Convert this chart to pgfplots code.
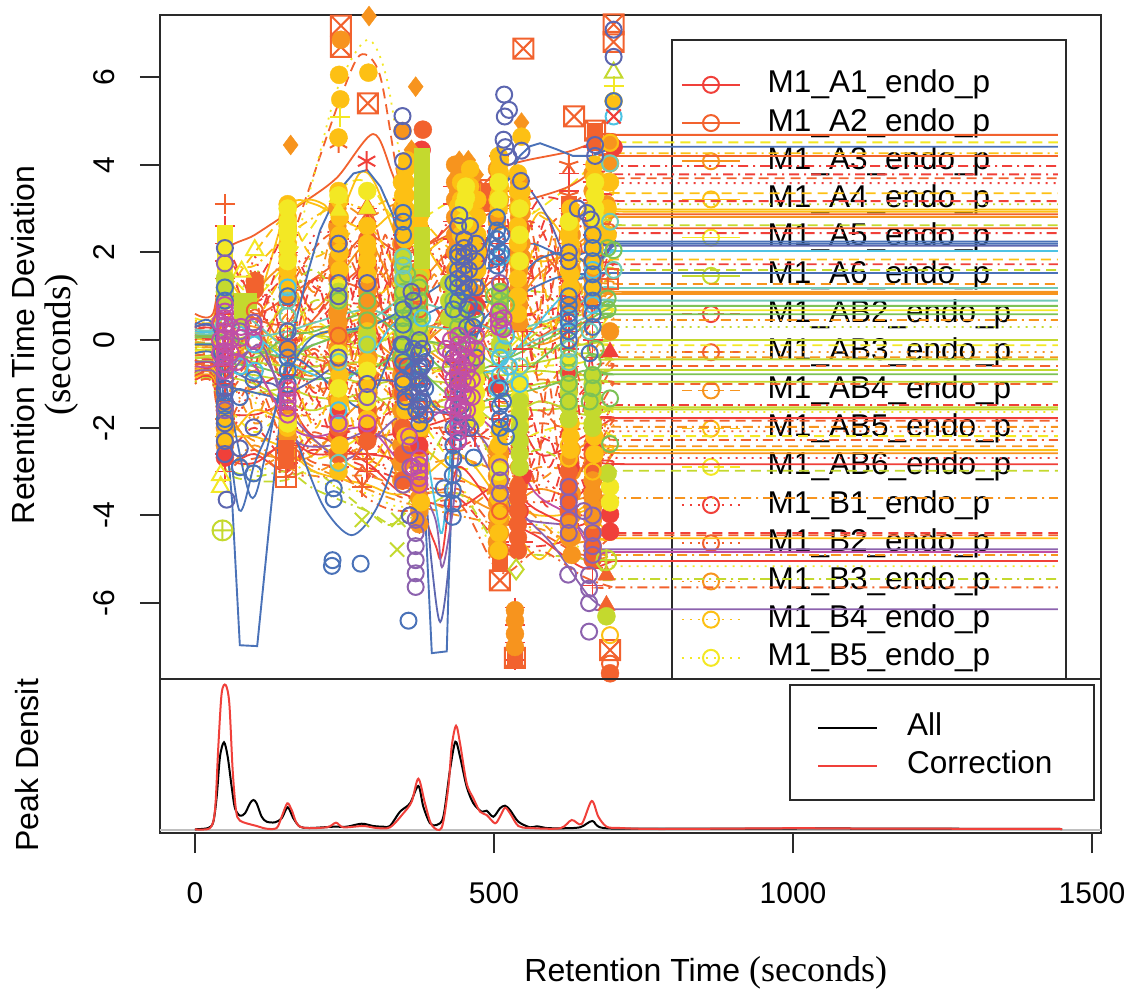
\documentclass[border=0pt]{standalone}
\usepackage{fontspec}
\setmainfont{Liberation Sans}
\newfontfamily\serifx{Liberation Serif}
\usepackage{pgfplots}
\pgfplotsset{compat=1.18}
\usetikzlibrary{plotmarks}
\definecolor{cR}{HTML}{F0403A}
\definecolor{cOR}{HTML}{F2622E}
\definecolor{cO}{HTML}{F7941E}
\definecolor{cYO}{HTML}{FDC014}
\definecolor{cL}{HTML}{F3E824}
\definecolor{cG}{HTML}{C4D92E}
\definecolor{cV}{HTML}{7CC256}
\definecolor{cT}{HTML}{70C9B8}
\definecolor{cC}{HTML}{4DC3E3}
\definecolor{cB}{HTML}{4A72B8}
\definecolor{cI}{HTML}{5C66B0}
\definecolor{cP}{HTML}{8C62AE}
\definecolor{cM}{HTML}{C04FA6}
\definecolor{fr}{HTML}{2A2A2A}
\pgfdeclareplotmark{boxx}{%
\pgfpathrectangle{\pgfqpoint{-\pgfplotmarksize}{-\pgfplotmarksize}}{\pgfqpoint{2\pgfplotmarksize}{2\pgfplotmarksize}}%
\pgfpathmoveto{\pgfqpoint{-\pgfplotmarksize}{-\pgfplotmarksize}}\pgfpathlineto{\pgfqpoint{\pgfplotmarksize}{\pgfplotmarksize}}%
\pgfpathmoveto{\pgfqpoint{-\pgfplotmarksize}{\pgfplotmarksize}}\pgfpathlineto{\pgfqpoint{\pgfplotmarksize}{-\pgfplotmarksize}}%
\pgfusepathqstroke}
\pgfdeclareplotmark{boxp}{%
\pgfpathrectangle{\pgfqpoint{-\pgfplotmarksize}{-\pgfplotmarksize}}{\pgfqpoint{2\pgfplotmarksize}{2\pgfplotmarksize}}%
\pgfpathmoveto{\pgfqpoint{-\pgfplotmarksize}{0pt}}\pgfpathlineto{\pgfqpoint{\pgfplotmarksize}{0pt}}%
\pgfpathmoveto{\pgfqpoint{0pt}{\pgfplotmarksize}}\pgfpathlineto{\pgfqpoint{0pt}{-\pgfplotmarksize}}%
\pgfusepathqstroke}
\tikzset{
 LA/.style={solid},
 LB/.style={dash pattern=on 10pt off 6pt},
 LC/.style={dash pattern=on 2pt off 6pt},
 LD/.style={dash pattern=on 2pt off 5pt on 10pt off 5pt},
 LE/.style={dash pattern=on 18pt off 6pt},
}
\pgfplotsset{
 K/.style 2 args={no marks,smooth,color=#1,#2,line width=1.8pt},
 O/.style={only marks,mark=o,color=#1,mark options={solid,line width=2pt},mark size=8pt},
 F/.style={only marks,mark=*,color=#1,mark options={solid,fill=#1,draw=#1},mark size=9pt},
 SQ/.style={only marks,mark=square*,color=#1,mark options={solid,fill=#1,draw=#1},mark size=7.5pt},
 TR/.style={only marks,mark=triangle*,color=#1,mark options={solid,fill=#1,draw=#1},mark size=10pt},
 DI/.style={only marks,mark=diamond*,color=#1,mark options={solid,fill=#1,draw=#1},mark size=10pt},
 MK/.style 2 args={only marks,mark=#2,color=#1,mark options={solid,line width=2pt},mark size=10pt},
 MS/.style 2 args={only marks,mark=#2,color=#1,mark options={solid,line width=1.5pt},mark size=10pt},
 frame/.style={scale only axis,width=941pt,xmin=-58.5,xmax=1515,
  axis line style={line width=2pt,color=fr},
  tick style={line width=2pt,color=fr},
  tick align=outside,
  major tick length=20pt,
  tick label style={font=\fontsize{30}{30}\selectfont},
  /pgf/number format/assume math mode=true,
  /pgf/number format/set thousands separator={}},
 legimg/.style={legend image code/.code={\draw[mark repeat=2,mark phase=2,##1] plot coordinates {(0pt,0pt)(29pt,0pt)(58pt,0pt)};}},
}
\begin{document}
\begin{tikzpicture}[x=1pt,y=1pt]
\path[use as bounding box] (0,0) rectangle (1131,988);
% legend of the upper panel, below the curves
\draw[line width=2pt,color=fr] (672,309)--(672,948)--(1066,948)--(1066,309);
\begin{axis}[hide axis,scale only axis,width=941pt,height=664pt,at={(160pt,309pt)},anchor=south west,
 xmin=-58.5,xmax=1515,ymin=-7.73,ymax=7.415,legimg,
 legend cell align=left,
 legend style={draw=none,fill=none,at={(0.5537,0.9177)},anchor=north west,inner sep=0pt,row sep=8.2pt,
  font=\fontsize{31.5}{31.5}\selectfont,
  nodes={inner sep=0pt,text height=23pt,text depth=7pt},
  /tikz/every odd column/.append style={column sep=27pt}}]
\addlegendimage{cR,solid,line width=1.5pt,mark=o,mark size=8pt,mark options={solid,line width=2pt}}
\addlegendentry{M1\_A1\_endo\_p}
\addlegendimage{cOR,solid,line width=1.5pt,mark=o,mark size=8pt,mark options={solid,line width=2pt}}
\addlegendentry{M1\_A2\_endo\_p}
\addlegendimage{cO,solid,line width=1.5pt,mark=o,mark size=8pt,mark options={solid,line width=2pt}}
\addlegendentry{M1\_A3\_endo\_p}
\addlegendimage{cYO,solid,line width=1.5pt,mark=o,mark size=8pt,mark options={solid,line width=2pt}}
\addlegendentry{M1\_A4\_endo\_p}
\addlegendimage{cL,solid,line width=1.5pt,mark=o,mark size=8pt,mark options={solid,line width=2pt}}
\addlegendentry{M1\_A5\_endo\_p}
\addlegendimage{cG,solid,line width=1.5pt,mark=o,mark size=8pt,mark options={solid,line width=2pt}}
\addlegendentry{M1\_A6\_endo\_p}
\addlegendimage{cR,LB,line width=1.5pt,mark=o,mark size=8pt,mark options={solid,line width=2pt}}
\addlegendentry{M1\_AB2\_endo\_p}
\addlegendimage{cOR,LB,line width=1.5pt,mark=o,mark size=8pt,mark options={solid,line width=2pt}}
\addlegendentry{M1\_AB3\_endo\_p}
\addlegendimage{cO,LB,line width=1.5pt,mark=o,mark size=8pt,mark options={solid,line width=2pt}}
\addlegendentry{M1\_AB4\_endo\_p}
\addlegendimage{cYO,LB,line width=1.5pt,mark=o,mark size=8pt,mark options={solid,line width=2pt}}
\addlegendentry{M1\_AB5\_endo\_p}
\addlegendimage{cL,LB,line width=1.5pt,mark=o,mark size=8pt,mark options={solid,line width=2pt}}
\addlegendentry{M1\_AB6\_endo\_p}
\addlegendimage{cR,LC,line width=1.5pt,mark=o,mark size=8pt,mark options={solid,line width=2pt}}
\addlegendentry{M1\_B1\_endo\_p}
\addlegendimage{cOR,LC,line width=1.5pt,mark=o,mark size=8pt,mark options={solid,line width=2pt}}
\addlegendentry{M1\_B2\_endo\_p}
\addlegendimage{cO,LC,line width=1.5pt,mark=o,mark size=8pt,mark options={solid,line width=2pt}}
\addlegendentry{M1\_B3\_endo\_p}
\addlegendimage{cYO,LC,line width=1.5pt,mark=o,mark size=8pt,mark options={solid,line width=2pt}}
\addlegendentry{M1\_B4\_endo\_p}
\addlegendimage{cL,LC,line width=1.5pt,mark=o,mark size=8pt,mark options={solid,line width=2pt}}
\addlegendentry{M1\_B5\_endo\_p}
\end{axis}
% upper panel
\begin{axis}[frame,height=664pt,at={(160pt,309pt)},anchor=south west,
 ymin=-7.73,ymax=7.415,
 xtick=\empty,
 ytick={-6,-4,-2,0,2,4,6},
 ytick pos=left,
 yticklabel style={rotate=90,anchor=south,yshift=22pt},
 ylabel={Retention Time Deviation\\{\serifx\fontsize{37}{36}\selectfont(seconds)}},
 ylabel style={at={(axis description cs:-0.122,0.503)},anchor=center,align=center,font=\fontsize{32}{36}\selectfont}]
% warm curves
\addplot[K={cOR}{LA}] coordinates {(0,.6)(30,.6)(50,2)(100,2.4)(175,3.08)(237,3.7)(298,4.7)(331,3.76)(375,2.2)(440,2.8)(510,3.9)(625,4.3)(700,4.68)(725,4.68)(1443,4.68)};
\addplot[K={cL}{LB}] coordinates {(0,.5)(30,.5)(50,1.5)(100,1)(155,1.8)(240,3.4)(288,3.6)(348,2.6)(440,3.2)(510,2.5)(625,3.5)(700,4.51)(725,4.51)(1443,4.51)};
\addplot[K={cOR}{LA}] coordinates {(0,.4)(30,.4)(50,1.2)(100,.6)(155,1)(240,1.8)(288,2.4)(348,2)(440,2.5)(510,3)(625,3.5)(700,4.2)(725,4.2)(1443,4.2)};
\addplot[K={cYO}{LD}] coordinates {(0,.45)(30,.45)(50,1.6)(100,1.7)(155,2.4)(240,3.1)(288,3)(348,3.2)(440,2)(510,3.3)(625,2.6)(700,4.26)(725,4.26)(1443,4.26)};
\addplot[K={cR}{LD}] coordinates {(0,.3)(30,.3)(50,2.1)(100,.9)(155,1.4)(200,.4)(288,1.7)(348,1.1)(440,2.9)(510,1.6)(575,3.2)(650,3.1)(700,3.97)(725,3.97)(1443,3.97)};
\addplot[K={cR}{LD}] coordinates {(0,.25)(30,.25)(50,-.4)(100,.3)(155,2.1)(200,1.2)(288,.9)(348,2.7)(440,1.3)(510,2.2)(575,1.4)(650,2.7)(700,3.78)(725,3.78)(1443,3.78)};
\addplot[K={cOR}{LB}] coordinates {(0,.35)(30,.35)(50,1.8)(100,.2)(155,-.6)(200,1)(288,3)(348,.4)(440,1.9)(510,.3)(575,2.3)(650,3.3)(700,3.69)(725,3.69)(1443,3.69)};
\addplot[K={cR}{LC}] coordinates {(0,.32)(30,.32)(50,.9)(100,1.4)(155,.2)(200,2.4)(288,1.9)(348,-.3)(440,.9)(510,2.8)(575,1)(650,1.5)(700,3.58)(725,3.58)(1443,3.58)};
\addplot[K={cYO}{LB}] coordinates {(0,.2)(30,.2)(50,1)(100,2)(155,2.8)(200,1.9)(288,2.6)(348,1.3)(440,-.5)(510,1.2)(575,-.4)(650,2)(700,3.35)(725,3.35)(1443,3.35)};
\addplot[K={cR}{LB}] coordinates {(0,.22)(30,.22)(50,-1)(100,-.3)(155,.8)(200,-.6)(288,.3)(348,1.8)(440,.1)(510,1.9)(575,.4)(650,.5)(700,3.17)(725,3.17)(1443,3.17)};
\addplot[K={cG}{LC}] coordinates {(0,.18)(30,.18)(50,.2)(100,1.6)(155,.5)(200,2)(288,1.4)(348,.6)(440,1.5)(510,-.2)(575,.9)(650,1.1)(700,3.1)(725,3.1)(1443,3.1)};
\addplot[K={cYO}{LA}] coordinates {(0,.16)(30,.16)(50,1.4)(100,.8)(155,3)(200,3.1)(288,2.5)(348,2.9)(440,1.2)(510,2.6)(575,1.8)(650,2.2)(700,2.98)(725,2.98)(1443,2.98)};
\addplot[K={cYO}{LA}] coordinates {(0,.14)(30,.14)(50,.7)(100,-.6)(155,1.2)(200,.1)(288,.8)(348,1.5)(440,2.4)(510,.8)(575,2.9)(650,1.8)(700,2.93)(725,2.93)(1443,2.93)};
\addplot[K={cOR}{LA}] coordinates {(0,.12)(30,.12)(50,1.1)(100,.5)(155,.4)(200,1.4)(288,1.1)(348,.2)(440,.6)(510,1.4)(575,.1)(650,1.2)(700,2.87)(725,2.87)(1443,2.87)};
\addplot[K={cO}{LA}] coordinates {(0,.1)(30,.1)(50,.4)(100,1.1)(155,1.7)(200,.7)(288,2.2)(348,1)(440,2.1)(510,.6)(575,1.5)(650,2.3)(700,2.81)(725,2.81)(1443,2.81)};
\addplot[K={cG}{LB}] coordinates {(0,.08)(30,.08)(50,.8)(100,.1)(155,.9)(200,1.6)(288,.3)(348,.9)(440,-.8)(510,.9)(575,1.1)(650,.6)(700,2.62)(725,2.62)(1443,2.62)};
\addplot[K={cOR}{LA}] coordinates {(0,.06)(30,.06)(50,-.2)(100,.7)(155,-.2)(200,.5)(288,1.6)(348,-.7)(440,1.1)(510,-.6)(575,1.9)(650,.9)(700,2.55)(725,2.55)(1443,2.55)};
\addplot[K={cR}{LD}] coordinates {(0,.04)(30,.04)(50,.6)(100,-.9)(155,.3)(200,-1.2)(288,-.4)(348,.7)(440,-.2)(510,2.2)(575,2.6)(650,.2)(700,2.44)(725,2.44)(1443,2.44)};
\addplot[K={cYO}{LB}] coordinates {(0,.02)(30,.02)(50,.1)(100,.4)(155,1.5)(200,.2)(288,.5)(348,-.2)(440,.8)(510,1.1)(575,-.8)(650,1.4)(700,1.84)(725,1.84)(1443,1.84)};
\addplot[K={cR}{LD}] coordinates {(0,0)(30,0)(50,-.7)(100,.2)(155,-1)(200,-.1)(288,-1.1)(348,.1)(440,-1.1)(510,.4)(575,.6)(650,1)(700,1.73)(725,1.73)(1443,1.73)};
\addplot[K={cG}{LB}] coordinates {(0,-.03)(30,-.03)(50,.5)(100,-.4)(155,.1)(200,.9)(288,.7)(348,.5)(440,.3)(510,-.4)(575,.2)(650,.7)(700,1.6)(725,1.6)(1443,1.6)};
\addplot[K={cO}{LB}] coordinates {(0,-.06)(30,-.06)(50,-.1)(100,-.7)(155,.6)(200,-.4)(288,-.6)(348,-1.1)(440,-.4)(510,-.1)(575,-1.2)(650,.2)(700,1.28)(725,1.28)(1443,1.28)};
\addplot[K={cO}{LA}] coordinates {(0,-.09)(30,-.09)(50,.3)(100,.3)(155,-.1)(200,.3)(288,.1)(348,-.4)(440,.5)(510,.2)(575,.3)(650,.8)(700,1.1)(725,1.1)(1443,1.1)};
\addplot[K={cO}{LA}] coordinates {(0,-.12)(30,-.12)(50,-.3)(100,.1)(155,-.4)(200,-.8)(288,.4)(348,.2)(440,-.6)(510,.5)(575,-.1)(650,.4)(700,1.05)(725,1.05)(1443,1.05)};
\addplot[K={cL}{LA}] coordinates {(0,-.15)(30,-.15)(50,.2)(100,-.2)(155,.3)(200,.1)(288,-.2)(348,.3)(440,.2)(510,-.3)(575,.4)(650,-.1)(700,.68)(725,.68)(1443,.68)};
\addplot[K={cO}{LD}] coordinates {(0,-.18)(30,-.18)(50,-.5)(100,-.1)(155,-.7)(200,-.3)(288,-.8)(348,-1.4)(440,-1.3)(510,-.9)(575,.7)(650,-.4)(700,.46)(725,.46)(1443,.46)};
\addplot[K={cG}{LC}] coordinates {(0,-.2)(30,-.2)(50,.1)(100,-.5)(155,.1)(200,-.5)(288,.2)(348,-.2)(440,.4)(510,-.5)(575,-.3)(650,.1)(700,.3)(725,.3)(1443,.3)};
\addplot[K={cG}{LA}] coordinates {(0,-.22)(30,-.22)(50,-.1)(100,.1)(155,-.3)(200,.1)(288,-.1)(348,.1)(440,-.2)(510,.2)(575,-.2)(650,-.1)(700,0)(725,0)(1443,0)};
\addplot[K={cL}{LB}] coordinates {(0,-.25)(30,-.25)(50,-.6)(100,.1)(155,-.9)(200,.4)(288,-.5)(348,-.7)(440,-.7)(510,-.7)(575,-.6)(650,-.5)(700,-.12)(725,-.12)(1443,-.12)};
\addplot[K={cO}{LC}] coordinates {(0,-.28)(30,-.28)(50,.3)(100,-.8)(155,.2)(200,-.9)(288,-1.3)(348,.2)(440,-1.5)(510,-1.1)(575,.1)(650,-.8)(700,-.27)(725,-.27)(1443,-.27)};
\addplot[K={cO}{LB}] coordinates {(0,-.3)(30,-.3)(50,-.8)(100,-.3)(155,-.5)(200,-1.1)(288,-.9)(348,-.8)(440,.7)(510,-1.4)(575,-.9)(650,-1.1)(700,-.39)(725,-.39)(1443,-.39)};
\addplot[K={cG}{LA}] coordinates {(0,-.33)(30,-.33)(50,.1)(100,-.3)(155,-.2)(200,-.4)(288,-.3)(348,-.5)(440,-.1)(510,-.6)(575,-.5)(650,-.3)(700,-.44)(725,-.44)(1443,-.44)};
\addplot[K={cOR}{LB}] coordinates {(0,-.36)(30,-.36)(50,-.9)(100,.4)(155,-1.2)(200,-.2)(288,-1.6)(348,-1.2)(440,-1.8)(510,-1.7)(575,-1.4)(650,-1.6)(700,-.59)(725,-.59)(1443,-.59)};
\addplot[K={cG}{LA}] coordinates {(0,-.39)(30,-.39)(50,-.4)(100,-.5)(155,-.6)(200,-.6)(288,-.5)(348,-.7)(440,-.6)(510,-.8)(575,-.7)(650,-.8)(700,-.68)(725,-.68)(1443,-.68)};
\addplot[K={cG}{LA}] coordinates {(0,-.42)(30,-.42)(50,-.7)(100,-.8)(155,-.9)(200,-.7)(288,-1)(348,-.9)(440,-1)(510,-1.2)(575,-1)(650,-.9)(700,-.95)(725,-.95)(1443,-.95)};
\addplot[K={cOR}{LB}] coordinates {(0,-.45)(30,-.45)(50,.5)(100,-1)(155,-1.5)(200,-1.6)(288,.6)(348,-1.8)(440,-2)(510,-2.3)(575,-1.9)(650,-2)(700,-1)(725,-1)(1443,-1)};
\addplot[K={cR}{LD}] coordinates {(0,-.48)(30,-.48)(50,-1.2)(100,-1.1)(155,-.8)(200,-1.9)(288,-1.9)(348,-1.6)(440,-2.4)(510,-1.9)(575,-2.2)(650,-2.5)(700,-1.48)(725,-1.48)(1443,-1.48)};
\addplot[K={cG}{LA}] coordinates {(0,-.5)(30,-.5)(50,-1)(100,-1.2)(155,-1.1)(200,-1.3)(288,-1.4)(348,-1.3)(440,-1.6)(510,-1.5)(575,-1.6)(650,-1.5)(700,-1.53)(725,-1.53)(1443,-1.53)};
\addplot[K={cG}{LA}] coordinates {(0,-.52)(30,-.52)(50,-.8)(100,-1)(155,-1.4)(200,-1.6)(288,-1.2)(348,-1.7)(440,-1.3)(510,-1.9)(575,-1.4)(650,-1.7)(700,-1.58)(725,-1.58)(1443,-1.58)};
\addplot[K={cL}{LC}] coordinates {(0,-.54)(30,-.54)(50,.9)(100,-1.4)(155,-1.9)(200,-1.4)(288,.1)(348,-2.1)(440,-.9)(510,-2.4)(575,-2.3)(650,-1.3)(700,-1.64)(725,-1.64)(1443,-1.64)};
\addplot[K={cR}{LA}] coordinates {(0,-.56)(30,-.56)(50,-1.6)(100,-1.7)(155,-1.5)(200,-2.2)(288,-2.2)(348,-2.1)(440,-1.7)(510,-1)(575,-2.6)(650,-2.2)(700,-1.78)(725,-1.78)(1443,-1.78)};
\addplot[K={cOR}{LB}] coordinates {(0,-.58)(30,-.58)(50,-1.3)(100,-.6)(155,-2)(200,-1)(288,-2.5)(348,-.9)(440,-2.6)(510,-2.8)(575,-1.6)(650,-2.7)(700,-1.84)(725,-1.84)(1443,-1.84)};
\addplot[K={cO}{LD}] coordinates {(0,-.6)(30,-.6)(50,-.6)(100,-1.9)(155,-1.3)(200,-2.4)(288,-1.7)(348,-2.5)(440,-1.1)(510,-3.2)(575,-2.9)(650,-2.9)(700,-1.98)(725,-1.98)(1443,-1.98)};
\addplot[K={cOR}{LC}] coordinates {(0,-.62)(30,-.62)(50,-1.9)(100,-1.3)(155,-2.3)(200,-1.8)(288,-1)(348,-2.7)(440,-2.2)(510,-2.1)(575,-3.3)(650,-3.2)(700,-2.08)(725,-2.08)(1443,-2.08)};
\addplot[K={cL}{LB}] coordinates {(0,-.64)(30,-.64)(50,-1.4)(100,-2.1)(155,-1.7)(200,-2.7)(288,-2.1)(348,-1.4)(440,-2.9)(510,-2.6)(575,-2.1)(650,-1.9)(700,-2.19)(725,-2.19)(1443,-2.19)};
\addplot[K={cOR}{LD}] coordinates {(0,-.66)(30,-.66)(50,-2)(100,-.9)(155,-2.5)(200,-2.1)(288,-2.7)(348,-3.1)(440,-3.2)(510,-3.5)(575,-3.7)(650,-3.4)(700,-2.28)(725,-2.28)(1443,-2.28)};
\addplot[K={cO}{LB}] coordinates {(0,-.68)(30,-.68)(50,-1.7)(100,-2.3)(155,-2.2)(200,-3)(288,-2.4)(348,-2.9)(440,-2.7)(510,-3)(575,-3.2)(650,-2.4)(700,-2.42)(725,-2.42)(1443,-2.42)};
\addplot[K={cYO}{LA}] coordinates {(0,-.7)(30,-.7)(50,-2.2)(100,-1.6)(155,-1.9)(200,-2.3)(288,-3)(348,-2.2)(440,-3.1)(510,-3.6)(575,-4)(650,-3.8)(700,-2.51)(725,-2.51)(1443,-2.51)};
\addplot[K={cO}{LA}] coordinates {(0,-.72)(30,-.72)(50,-1.5)(100,-2.5)(155,-2.7)(200,-2.6)(288,-1.4)(348,-3.3)(440,-3.5)(510,-3.9)(575,-3.4)(650,-3.6)(700,-2.58)(725,-2.58)(1443,-2.58)};
\addplot[K={cR}{LC}] coordinates {(0,-.74)(30,-.74)(50,-2.4)(100,-1.1)(155,-2.9)(200,-3.1)(288,-3.2)(348,-2.4)(440,-2.4)(510,-2.5)(575,-3)(650,-4)(700,-2.69)(725,-2.69)(1443,-2.69)};
\addplot[K={cR}{LA}] coordinates {(0,-.76)(30,-.76)(50,-2.7)(100,-2.6)(155,-3)(200,-2.2)(288,-2.8)(348,-3.5)(440,-3.8)(510,-3.3)(575,-3.9)(650,-4.2)(700,-2.83)(725,-2.83)(1443,-2.83)};
\addplot[K={cG}{LB}] coordinates {(0,-.78)(30,-.78)(50,-2.9)(100,-3.2)(150,-3.2)(200,-3)(288,-3.9)(340,-4.1)(440,-1.7)(510,-2.9)(575,-2.5)(650,-3)(700,-2.98)(725,-2.98)(1443,-2.98)};
\addplot[K={cO}{LD}] coordinates {(0,-.8)(30,-.8)(50,-2.3)(100,-2.9)(155,-2.6)(200,-2.9)(288,-3.4)(348,-3.7)(440,-4)(510,-4.2)(575,-4.3)(650,-4.6)(700,-3.6)(725,-3.6)(1443,-3.6)};
\addplot[K={cR}{LB}] coordinates {(0,-.82)(30,-.82)(50,-2.5)(100,-2)(155,-2.8)(200,-2.5)(288,-2.9)(348,-3.2)(440,-3.6)(510,-4.6)(575,-4.7)(650,-4.5)(700,-4.4)(725,-4.4)(1443,-4.4)};
\addplot[K={cOR}{LB}] coordinates {(0,-.84)(30,-.84)(50,-2.6)(100,-2.7)(155,-2.4)(200,-2.8)(288,-3)(348,-3.6)(440,-3.4)(510,-4.4)(575,-4.4)(650,-4.9)(700,-4.45)(725,-4.45)(1443,-4.45)};
\addplot[K={cYO}{LA}] coordinates {(0,-.86)(30,-.86)(50,-2.1)(100,-2.2)(155,-2.5)(200,-3)(288,-3.3)(348,-3.5)(440,-2.6)(510,-3.7)(548,-4.6)(577,-5)(610,-4.5)(650,-3.9)(700,-4.52)(725,-4.52)(1443,-4.52)};
\addplot[K={cO}{LD}] coordinates {(0,-.9)(30,-.9)(50,-2.8)(100,-2.4)(155,-2.9)(200,-3.1)(288,-3.1)(348,-3.4)(440,-3.9)(510,-3.4)(575,-4.1)(650,-5)(700,-4.9)(725,-4.9)(1443,-4.9)};
\addplot[K={cR}{LA}] coordinates {(0,-.92)(30,-.92)(50,-2.6)(100,-2.8)(155,-2.3)(200,-2.6)(288,-2.6)(348,-2.9)(400,-4.6)(413,-4.9)(440,-2.9)(510,-4)(575,-4.5)(650,-5.2)(700,-5.04)(725,-5.04)(1443,-5.04)};
\addplot[K={cL}{LC}] coordinates {(0,-.95)(30,-.95)(50,-2.4)(100,-3)(155,-2.7)(200,-3.2)(288,-3.5)(348,-3.8)(440,-3.3)(510,-5)(575,-4.2)(650,-4.8)(700,-5.16)(725,-5.16)(1443,-5.16)};
\addplot[K={cG}{LD}] coordinates {(0,-.97)(30,-.97)(50,-2.8)(100,-3.1)(155,-3)(200,-3.4)(288,-3.9)(340,-4.2)(440,-3.5)(510,-4.8)(575,-4.9)(650,-5)(700,-5.45)(725,-5.45)(1443,-5.45)};
\addplot[K={cOR}{LD}] coordinates {(0,-1)(30,-1)(50,-2.9)(100,-2.5)(155,-3.1)(200,-2.4)(288,-3.6)(348,-3.9)(440,-3.7)(510,-5.3)(575,-4.8)(650,-5.4)(700,-5.64)(725,-5.64)(1443,-5.64)};
\addplot[K={cOR}{LB}] coordinates {(155,2)(187,3.3)(240,5.4)(276,6.5)(309,6.05)(338,3.83)(375,1.5)(420,.4)};
\addplot[K={cL}{LC}] coordinates {(155,1.5)(200,3.8)(240,5.8)(288,6.85)(320,6)(350,3.5)(380,1)};
\addplot[K={cYO}{LA}] coordinates {(155,2.9)(187,3.2)(215,3.1)(240,2.8)(275,3.8)(300,3.6)(340,2.2)};
% short curves between the columns
\addplot[K={cR}{LB}] coordinates {(155,1.8)(200,.6)(240,1.2)(288,-.4)(348,1.4)(375,-.6)};
\addplot[K={cR}{LD}] coordinates {(155,-.8)(200,1.4)(240,-.2)(288,1.9)(348,-1.3)(375,.8)};
\addplot[K={cOR}{LD}] coordinates {(155,.4)(200,-1.4)(240,.8)(288,-1.5)(348,.5)(375,-1.9)};
\addplot[K={cR}{LB}] coordinates {(155,-1.7)(200,-.3)(240,-1.7)(288,.8)(348,-2.2)(375,1.2)};
\addplot[K={cOR}{LB}] coordinates {(155,1.1)(200,2.1)(240,2.4)(288,1.2)(348,2.1)(375,2.9)};
\addplot[K={cO}{LD}] coordinates {(155,2.3)(200,1.1)(240,3)(288,2.8)(348,3.1)(375,1.9)};
\addplot[K={cR}{LD}] coordinates {(155,-2.2)(200,-1.3)(240,-2.6)(288,-2.2)(348,-3)(375,-2.2)};
\addplot[K={cYO}{LB}] coordinates {(155,-.3)(200,-2)(240,-.9)(288,-2.8)(348,-1.6)(375,-3.1)};
\addplot[K={cR}{LB}] coordinates {(240,3)(265,1)(288,2.9)(318,.6)(348,3.3)(400,.8)(432,3.2)};
\addplot[K={cOR}{LD}] coordinates {(240,.3)(265,2.2)(288,-.1)(318,2.4)(348,.2)(400,2.3)(432,.4)};
\addplot[K={cR}{LD}] coordinates {(240,-1.2)(265,.4)(288,-1.6)(318,-.3)(348,-1.9)(400,-.4)(432,-1.7)};
\addplot[K={cOR}{LB}] coordinates {(240,-2.3)(265,-1)(288,-2.4)(318,-1.4)(348,-2.6)(400,-1.4)(432,-2.4)};
\addplot[K={cO}{LB}] coordinates {(240,1.6)(265,-.5)(288,1.3)(318,1.4)(348,-.8)(400,1.5)(432,-.7)};
\addplot[K={cR}{LD}] coordinates {(440,3)(475,1.8)(510,3.4)(548,1.2)(590,2.8)(625,.3)(665,1.6)};
\addplot[K={cR}{LB}] coordinates {(440,1.5)(475,.2)(510,1.1)(548,2.6)(590,-.4)(625,1.8)(665,-.6)};
\addplot[K={cOR}{LD}] coordinates {(440,-.5)(475,-1.6)(510,-.6)(548,.4)(590,-1.7)(625,-.3)(665,-2.1)};
\addplot[K={cR}{LB}] coordinates {(440,-1.8)(475,-.4)(510,-2.4)(548,-1.1)(590,-2.9)(625,-1.6)(665,-.9)};
\addplot[K={cOR}{LB}] coordinates {(440,.6)(475,2.6)(510,.9)(548,3.3)(590,.9)(625,3.3)(665,.5)};
\addplot[K={cR}{LD}] coordinates {(510,-2.6)(548,-3.2)(590,-2.2)(625,-3.6)(665,-3.2)};
\addplot[K={cR}{LB}] coordinates {(510,-3.7)(548,-2.7)(590,-3.8)(625,-2.6)(665,-3.9)};
\addplot[K={cOR}{LB}] coordinates {(548,-1.6)(570,-3.3)(590,-.9)(610,-2.7)(625,-1.1)(645,-3)(665,-1.5)};
\addplot[K={cR}{LD}] coordinates {(548,.9)(570,-.7)(590,1.8)(610,-1.3)(625,.8)(645,-1.8)(665,.2)};
\addplot[K={cO}{LB}] coordinates {(540,2.2)(570,.4)(600,2.4)(625,-.9)(665,2.2)};
\addplot[K={cYO}{LB}] coordinates {(540,.4)(570,2.2)(600,.2)(625,2.4)(665,-.2)};
\addplot[K={cR}{LC}] coordinates {(50,1.9)(75,.3)(100,1.9)(125,.3)(155,1.7)};
\addplot[K={cR}{LB}] coordinates {(50,-1.2)(75,.7)(100,-.6)(125,1)(155,-.8)};
\addplot[K={cOR}{LD}] coordinates {(50,.7)(75,-.8)(100,1)(125,-.6)(155,.5)};
\addplot[K={cO}{LB}] coordinates {(50,-1.9)(75,-.2)(100,-1.8)(125,-1.2)(155,-2)};
\addplot[K={cR}{LD}] coordinates {(50,2.3)(75,1.4)(100,1.3)(125,1.8)(155,2.6)};
% warm marks
\addplot[MS={cR}{+}] coordinates {(50,2.6)(50,2.2)(50,1.8)(50,1.4)(50,1)(50,.6)(50,.2)(50,-.2)(50,-.6)(50,-1)(50,-1.4)(50,-1.8)(50,-2.2)(50,-2.6)(50,-3)
(155,2.4)(155,2)(155,1.6)(155,1.2)(155,.8)(155,.4)(155,0)(155,-.4)(155,-.8)(155,-1.2)(155,-1.6)(155,-2)(155,-2.4)(155,-2.8)
(240,3.1)(240,2.7)(240,2.3)(240,1.9)(240,1.5)(240,1.1)(240,.7)(240,.3)(240,-.1)(240,-.5)(240,-.9)(240,-1.3)(240,-1.7)(240,-2.1)(240,-2.5)(240,-2.9)
(288,3)(288,2.6)(288,2.2)(288,1.8)(288,1.4)(288,1)(288,.6)(288,.2)(288,-.2)(288,-.6)(288,-1)(288,-1.4)(288,-1.8)(288,-2.2)(288,-2.6)(288,-3)
(348,3.6)(348,3.2)(348,2.8)(348,2.4)(348,2)(348,1.6)(348,1.2)(348,.8)(348,.4)(348,0)(348,-.4)(348,-.8)(348,-1.2)(348,-1.6)(348,-2)(348,-2.4)(348,-2.8)(348,-3.2)
(375,3)(375,2.6)(375,2.2)(375,1.8)(375,1.4)(375,1)(375,.6)(375,.2)(375,-.2)(375,-.6)(375,-1)(375,-1.4)(375,-1.8)(375,-2.2)(375,-2.6)(375,-3)(375,-3.4)(375,-3.8)(375,-4.2)
(432,3.5)(432,3.1)(432,2.7)(432,2.3)(432,1.9)(432,1.5)(432,1.1)(432,.7)(432,.3)(432,-.1)(432,-.5)(432,-.9)(432,-1.3)(432,-1.7)(432,-2.1)(432,-2.5)
(468,3.4)(468,3)(468,2.6)(468,2.2)(468,1.8)(468,1.4)(468,1)(468,.6)(468,.2)(468,-.2)(468,-.6)(468,-1)(468,-1.4)(468,-1.8)(468,-2.2)
(508,4.2)(508,3.8)(508,3.4)(508,3)(508,2.6)(508,2.2)(508,1.8)(508,1.4)(508,1)(508,.6)(508,.2)(508,-.2)(508,-.6)(508,-1)(508,-1.4)(508,-1.8)(508,-2.2)(508,-2.6)(508,-3)(508,-3.4)(508,-3.8)(508,-4.2)(508,-4.6)
(548,3.4)(548,3)(548,2.6)(548,2.2)(548,1.8)(548,1.4)(548,1)(548,.6)(548,.2)(548,-.2)(548,-.6)(548,-1)(548,-1.4)(548,-1.8)(548,-2.2)(548,-2.6)(548,-3)(548,-3.4)(548,-3.8)(548,-4.2)(548,-4.6)
(625,3.8)(625,3.4)(625,3)(625,2.6)(625,2.2)(625,1.8)(625,1.4)(625,1)(625,.6)(625,.2)(625,-.2)(625,-.6)(625,-1)(625,-1.4)(625,-1.8)(625,-2.2)(625,-2.6)(625,-3)(625,-3.4)(625,-3.8)(625,-4.2)(625,-4.6)
(665,4.4)(665,4)(665,3.6)(665,3.2)(665,2.8)(665,2.4)(665,2)(665,1.6)(665,1.2)(665,.8)(665,.4)(665,0)(665,-.4)(665,-.8)(665,-1.2)(665,-1.6)(665,-2)(665,-2.4)(665,-2.8)(665,-3.2)(665,-3.6)(665,-4)(665,-4.4)(665,-4.8)(665,-5.2)(665,-5.6)
(535,-6.1)(535,-6.5)(535,-6.9)(535,-7.3)};
% dense fill of the columns
\addplot[F={cO}] coordinates {(238,3)(238,2.6)(238,2.2)(238,1.8)(238,1.4)(238,1)(238,.6)(238,.2)(238,-.2)(238,-.6)(238,-1)(238,-1.4)(238,-1.8)(238,-2.2)(238,-2.6)
(290,2)(290,1.6)(290,1.2)(290,.8)(290,.4)(290,0)(290,-.4)(290,-.8)(290,-1.2)(290,-1.6)(290,-2)
(345,3)(345,2.6)(345,2.2)(345,1.8)(345,-.4)(345,-.8)(345,-1.2)(345,-1.6)(345,-2)(345,-2.4)(345,-2.8)(345,-3.2)
(375,1.6)(375,1.2)(375,-2.1)(375,-2.5)(375,-3.3)(375,-3.6)(375,-3.9)(375,-4.2)
(435,4)(435,3.6)(435,3.2)(435,2.8)(435,2.4)(435,2)(435,1.6)(435,1.2)
(450,3.8)(450,3.4)(450,3)(450,2.6)(450,2.2)(450,1.8)(450,1.4)
(465,3.5)(465,3.1)(465,2.7)(465,2.3)(465,1.9)(465,1.5)(465,1.1)
(505,3.9)(505,3.5)(505,3.1)(505,2.7)(505,-2.5)(505,-2.8)(505,-3.1)(505,-3.4)(505,-3.7)(505,-4)(505,-4.3)(505,-4.6)(505,-4.8)
(542,3.6)(542,3.2)(542,2.8)(542,2.4)(542,2)(542,1.6)(542,1.2)(542,.8)(542,.4)(542,-2.9)(542,-3.3)
(630,2.8)(630,2.4)(630,2)(630,1.6)(630,1.2)(630,.8)(630,-2.5)(630,-3)(630,-3.5)(630,-4)(630,-4.5)(630,-4.9)
(665,3.8)(665,3.4)(665,3)(665,2.6)(665,2.2)(665,1.8)(665,1.4)(665,1)(665,-2.4)(665,-2.8)(665,-3.2)(665,-3.6)(665,-4)(665,-4.4)(665,-4.8)
(50,-1.6)(50,-2)(50,-2.4)(155,1.4)(155,1)(155,-.2)(155,-1.8)(155,-2.2)(155,-2.6)};
\addplot[F={cR}] coordinates {(379,4.34)(50,-2.68)(288,-2)(348,.98)(240,.98)(463,-.8)(505,-1)(543,-3.9)(694,-3.97)(694,-4.37)(625,-.7)(380,1.5)(700,4.4)(288,-1.3)(240,-1.7)(240,-2.1)(345,-2.1)(375,-2.4)(628,-2.9)(665,-2.5)(548,-3.1)(440,.5)(470,.8)};
\addplot[TR={cR}] coordinates {(694,-.27)(540,-.9)};
\addplot[F={cOR}] coordinates {(381,4.8)(288,2.3)(545,2.55)(100,1.35)(100,1.15)(625,-3)(625,-3.3)(625,-3.6)(625,-3.9)(625,-4.2)(665,-2.6)(665,-2.9)(665,-3.2)(665,-3.5)(665,-3.8)(665,-4.1)(665,-4.4)(665,-4.7)(665,-5)(540,-3.4)(540,-3.6)(540,-3.9)(540,-4.2)(540,-4.5)(540,-4.8)(694,-7.6)(288,-2.3)(348,-2.6)(240,2.2)(240,1.4)(240,.8)(240,-1)(240,-2)(240,-2.6)(288,1.6)(288,-.8)(288,-1.6)(348,2.2)(348,-.6)(348,-1.2)(348,-2)(348,-3.2)(375,.2)(440,1)(440,-.8)(510,-2.6)(510,-3)(510,-4.8)};
\addplot[TR={cOR}] coordinates {(688,-5.36)(688,-6.05)(540,-3.2)(240,2.8)(665,-2.2)};
\addplot[SQ={cOR}] coordinates {(669,4.78)(669,4.5)(491,3.4)(491,3.1)(152,-2.74)(152,-2.45)(625,3.1)(625,2.7)(535,-7.3)(510,-5.1)(510,-2.7)};
\addplot[MK={cOR}{boxx}] coordinates {(244,7.17)(244,6.69)(289,5.4)(491,3.42)(549,6.65)(634,5.1)(669,4.78)(700,7.2)(700,6.8)(510,-5.48)(535,-7.25)(694,-7.07)};
\addplot[MK={cOR}{boxp}] coordinates {(152,-3.12)(152,-2.7)(690,1.4)};
\addplot[MK={cOR}{asterisk}] coordinates {(240,4.5)(100,1.35)};
\addplot[MK={cR}{asterisk}] coordinates {(287,4.08)};
\addplot[MK={cOR}{+}] coordinates {(50,3.1)(280,-3.35)};
\addplot[MK={cOR}{star}] coordinates {(625,4)(625,3.3)(510,-4.95)(545,3.2)};
\addplot[MK={cOR}{diamond}] coordinates {(289,2.7)(280,-3.1)};
\addplot[MK={cOR}{triangle}] coordinates {(280,-2.6)(288,3)};
\addplot[DI={cO}] coordinates {(160,4.45)(369,5.78)(291,7.39)(362,4.34)(442,4.09)(457,4.1)(455,3.95)(470,3.77)(443,3.77)(546,4.96)};
\addplot[F={cO}] coordinates {(244,6.85)(347,4.77)
(440,3.7)(440,3.4)(440,3.1)(440,2.8)(440,2.5)(440,2.2)(455,3.6)(455,3.3)(455,3)(455,2.7)(455,2.4)(468,3.2)(468,2.9)
(155,1.4)(155,1.2)
(240,2.2)(240,1.9)(240,1.6)(240,.7)(240,.4)(240,.1)(240,-.2)
(288,1.1)(288,.8)(288,.5)
(510,-2.6)(510,-2.9)(510,-3.2)(510,-3.5)(510,-3.8)(510,-4.1)(510,-4.4)(510,3.2)
(535,-6.16)(535,-6.4)(535,-6.7)(535,-7)
(625,-2.7)(625,-4.2)(625,-4.5)(665,-3.2)(665,-3.5)(665,-3.8)(665,-4.1)
(546,2.9)(546,2.2)(546,1.9)(688,3.1)(694,4.03)(694,4.5)(694,.2)};
\addplot[F={cYO}] coordinates {(241,6.05)(243,5.49)(290,6.1)(240,4.62)(348,3.3)(350,3.6)(352,3.9)(355,4.1)(346,3.6)(375,2.8)(375,2.6)(375,2.4)(510,4.1)(510,3.8)(510,3.5)(506,3.2)(546,4.64)(546,3.4)(546,3.1)(155,2.6)(155,1.9)(155,1.6)(288,2.1)(288,1.8)(240,3.4)(440,1.7)(452,1.3)(440,3.05)(625,2.4)(625,1.6)(665,1.2)(700,5.45)(694,3.6)(510,-2.1)(540,1.4)(455,.4)(470,-.3)(240,-3)(50,-1.8)(155,-2)(375,-3)(625,-1.8)
(50,1.2)(50,.9)(50,-1.9)(50,-2.2)
(155,3.1)(155,2.8)(155,2.5)(155,2.2)(155,1.3)
(242,3.2)(242,2.8)(242,2.4)(242,2)(242,1.6)(242,1)(242,-.8)(242,-1.4)(242,-1.9)(242,-2.4)
(288,2.6)(288,2.2)(288,1.5)(288,.2)(288,-.5)(288,-1.1)(288,-1.8)
(352,3.6)(352,3.3)(352,3)(352,2.6)(352,2.3)(352,-1)(352,-1.6)(352,-2.2)
(378,2.9)(378,1.5)(378,.1)(378,-2)(378,-2.9)(378,-3.7)
(445,3.6)(445,3.2)(445,2.8)(445,2.4)(445,2)(445,1.6)(445,1.2)(445,.8)
(460,3.9)(460,3.5)(460,3.1)(460,2.7)(460,2.3)(460,1.9)(460,1.5)
(472,3.2)(472,2.8)(472,2.4)(472,2)(472,1.6)
(508,4.2)(508,3.9)(508,3.6)(508,3.3)(508,3)(508,-2.4)(508,-2.8)(508,-3.2)(508,-3.6)(508,-4)(508,-4.4)(508,-4.8)
(540,3.8)(540,3.4)(540,3)(540,2.6)(540,2.2)(540,1.8)(540,1)(540,.6)(540,-1)
(628,3)(628,2.6)(628,2.2)(628,1.9)(628,1.5)(628,1.2)(628,-1.9)(628,-2.2)(628,-2.5)
(668,4)(668,3.7)(668,3.3)(668,2.9)(668,2.5)(668,2.1)(668,1.7)(668,-2.2)(668,-2.6)
(690,3.6)(690,3)(690,2.4)};
\addplot[SQ={cL}] coordinates {(50,2.45)(50,2.15)(50,1.85)(50,1.55)};
\addplot[F={cL}] coordinates {(155,3)(155,2.7)(155,2.4)(155,2.1)(155,1.8)(288,3.4)(453,3.5)(453,3.25)(625,2.7)(669,3.6)(669,3.3)(669,3)(669,2.8)(694,-3.35)(694,-3.7)(470,-1.2)(470,-1.5)(470,-.9)(470,-1.8)(543,-1.6)(543,-1.9)(155,-1.9)(155,2.5)(240,3.3)(240,1.2)(240,-.3)(240,-1.1)(288,-.7)(288,-1.4)(450,3.1)(450,2.7)(508,3.6)(508,3.2)(508,-3)(543,3)(543,2.4)(543,1.8)(543,-.9)(543,-1.3)(625,-.5)};
\addplot[TR={cL}] coordinates {(288,3)(240,3.25)(240,2.95)};
\addplot[MK={cL}{triangle}] coordinates {(100,2.05)(78,1.56)(43,-3.08)(43,-3.35)};
\addplot[MK={cL}{+}] coordinates {(243,5.08)(700,5.8)};
\addplot[SQ={cG}] coordinates {(379,4.2)(379,3.9)(379,3.6)(379,3.3)(379,3)(379,2.4)(379,2.1)(379,1.8)(78,.9)(78,.7)(78,.5)(90,.9)};
\addplot[F={cG}] coordinates {(240,1.1)(288,0)(543,-1.7)(543,-2)(543,-2.3)(625,-1.2)(625,-1.5)(625,-1.8)(665,-1)(665,-1.3)(665,-1.6)(665,-1.9)(348,1.6)(348,1.3)(348,1)(348,.7)(348,.4)(690,-3.04)(688,-6.3)(470,-.6)(375,1.4)(510,.8)
(348,1.9)(348,.1)(348,-.2)(375,1.1)(375,.8)(375,.5)(375,.2)(375,-.1)(425,1.3)(425,.9)(425,.5)(440,.8)(440,.5)(440,.2)(510,1.1)(510,.5)(510,.2)(510,-.1)(543,-1.4)(543,-2.6)(543,-2.9)(625,-1)(665,-.8)(665,-2)(50,1.4)(50,1.1)(50,.9)(240,.9)(288,.1)(288,-.1)};
\addplot[MK={cG}{x}] coordinates {(338,-4.78)(340,-4.1)(279,-4.1)};
\addplot[MK={cG}{triangle}] coordinates {(700,6.1)};
\addplot[MK={cG}{oplus}] coordinates {(46,-4.34)(688,-5.02)};
\addplot[MK={cG}{diamond}] coordinates {(537,-5.23)};
\addplot[O={cYO}] coordinates {(348,3.1)(665,-3)(625,-2.7)(625,-2.4)(694,4.5)(694,-6.73)};
\addplot[O={cOR}] coordinates {(100,.67)(240,.1)(240,-.4)(375,1.3)(375,1)(375,.7)(694,-7.38)(510,-3.9)};
% cool curves
\addplot[K={cC}{LA}] coordinates {(0,.2)(30,.2)(50,.5)(110,0)(155,-.5)(200,-.8)(240,-1)(288,-.5)(348,.3)(400,-3.6)(413,-4.4)(425,-3)(440,-1)(510,-.6)(600,.8)(650,1.5)(700,2.03)(725,2.03)(1443,2.03)};
\addplot[K={cT}{LA}] coordinates {(0,.25)(30,.25)(50,.8)(100,.4)(155,-.2)(200,-.1)(288,.4)(348,.9)(440,.6)(510,.2)(600,.5)(650,.9)(700,1.19)(725,1.19)(1443,1.19)};
\addplot[K={cT}{LA}] coordinates {(0,.15)(30,.15)(50,.4)(100,.1)(155,.2)(200,.4)(288,.7)(348,.4)(440,.2)(510,-.3)(600,.2)(650,.5)(700,.9)(725,.9)(1443,.9)};
\addplot[K={cV}{LA}] coordinates {(0,.1)(30,.1)(50,.1)(100,-.2)(155,-.4)(200,-.1)(288,.3)(348,.5)(400,-.5)(440,-.8)(510,-.5)(600,.1)(650,.4)(700,.78)(725,.78)(1443,.78)};
\addplot[K={cV}{LA}] coordinates {(0,.05)(30,.05)(50,-.2)(100,-.4)(155,.1)(200,.2)(288,.6)(348,.1)(440,-.2)(510,-1)(600,-.2)(650,.3)(700,.59)(725,.59)(1443,.59)};
\addplot[K={cV}{LA}] coordinates {(0,-.1)(30,-.1)(50,-.5)(100,-.6)(155,-.8)(200,-.9)(288,-.7)(348,-.4)(440,-1.4)(510,-1.3)(600,-1)(650,-.7)(700,-.78)(725,-.78)(1443,-.78)};
\addplot[K={cB}{LA}] coordinates {(0,.35)(30,.35)(50,-1.5)(74,-3.88)(100,-2.8)(125,-2)(155,-.8)(200,.1)(288,.3)(348,.7)(440,1.5)(510,1.7)(560,2.2)(625,1.9)(700,2.25)(725,2.25)(1443,2.25)};
\addplot[K={cB}{LA}] coordinates {(0,.3)(30,.3)(50,-.9)(93,-3.57)(120,-2.5)(155,-.5)(200,-.7)(240,-1.2)(288,-1.5)(348,.2)(440,.9)(510,.9)(570,1.8)(625,2)(665,1.7)(700,2.2)(725,2.2)(1443,2.2)};
\addplot[K={cI}{LA}] coordinates {(0,.3)(30,.3)(50,-.5)(90,-.9)(130,-1)(155,-1.2)(200,-.9)(240,-.6)(288,-.9)(340,-1)(375,-2)(395,-5)(410,-6.43)(425,-5)(440,-1.5)(510,3.2)(545,3.63)(590,2.8)(640,1.4)(700,2.15)(725,2.15)(1443,2.15)};
\addplot[K={cB}{LA}] coordinates {(0,-.3)(30,-.3)(50,-1)(100,-1.2)(140,-1.4)(170,-2.3)(215,-3.8)(262,-4.45)(305,-3.8)(343,-2.3)(365,-.5)(400,-1.5)(440,-1.5)(480,.4)(540,1)(600,1.4)(640,1.5)(700,1.53)(725,1.53)(1443,1.53)};
\addplot[cB,no marks,line width=1.9pt] coordinates {(0,-.1)(30,-.1)(50,-1.8)(62,-3.65)(75,-6.96)(104,-6.98)(137,-2.5)(150,-.8)(164,.18)(190,1.6)(209,2.5)(240,3.4)(265,3.8)(288,3.88)(310,3.5)(331,2.85)(350,1.6)(370,-1)(385,-4)(396,-7.14)(421,-7.1)(431,-2.28)(445,-.3)(460,.9)(493,2.5)(520,3.6)(543,4.2)(560,4.42)(577,4.49)(605,4.35)(632,4.2)(665,4.2)(700,4.41)(1443,4.41)};
\addplot[K={cP}{LA}] coordinates {(0,-.5)(30,-.5)(50,-.7)(100,-.2)(140,-1)(170,-2.3)(230,-2.4)(288,-2.1)(340,-2.5)(400,-4)(413,-5.18)(430,-4)(450,-2)(498,-2.6)(527,-3.8)(555,-4.1)(610,-4.2)(640,-4.25)(670,-4.77)(700,-4.77)(725,-4.77)(1443,-4.77)};
\addplot[K={cM}{LA}] coordinates {(0,-.6)(30,-.6)(50,-.3)(100,-.6)(155,-1.9)(200,-2.2)(288,-2)(348,-2.8)(375,-2)(440,-1.5)(510,-2.2)(570,-3.5)(625,-4)(665,-4.8)(700,-4.83)(725,-4.83)(1443,-4.83)};
\addplot[K={cP}{LA}] coordinates {(0,-.7)(30,-.7)(50,-.9)(110,-.1)(155,-1.6)(240,-2.7)(288,-2.4)(348,-1.7)(440,-1.8)(505,-3.26)(550,-4)(600,-4.7)(656,-5.8)(690,-6.14)(725,-6.14)(1443,-6.14)};
% cool marks
\addplot[O={cV}] coordinates {(348,1.7)(348,1.4)(348,1.1)(348,.8)(348,.5)(348,.2)(375,1.2)(375,.9)(375,.6)(375,.3)(240,.9)(288,.9)(288,.45)(440,.9)(440,.6)(440,.3)(468,.7)(510,1.1)(510,.9)(510,.7)(625,-.75)(625,-1)(665,-.5)(665,-.8)(665,-1.1)(690,.95)(690,.7)(690,2.1)(694,-1.33)(694,-2.37)(700,2.05)(625,-.4)(625,-1.4)(660,-1.4)(670,-.2)(345,-.4)(355,1.5)(360,.6)(432,.9)(445,.1)(460,-.1)(500,1)(520,.8)(515,.3)};
\addplot[O={cT}] coordinates {(155,.9)(155,.55)(155,.2)(348,1.9)(348,1.7)(288,-.1)(694,4.03)(694,2.7)(625,-.2)(543,-.6)(240,-.5)(240,-2.8)(700,1.6)(510,-.4)(348,1.4)(625,-.5)(660,.2)(515,-.2)(520,-.8)};
\addplot[O={cC}] coordinates {(100,-.1)(380,.5)(155,-.4)(543,-1)(510,-.8)(700,5.1)(75,-.6)(520,.1)(100,-.7)(240,-1.6)(155,1.2)(625,.5)(665,.8)(665,1.6)(510,-.4)(525,-.6)(505,-1.1)(505,2.3)(512,1.9)(625,.2)};
\addplot[MK={cR}{x}] coordinates {(700,5.1)};
\addplot[O={cB}] coordinates {(50,1.2)(50,.9)(50,-.9)(50,-1.2)(50,-1.5)(50,-1.8)(98,-.9)(75,-1.3)(98,-3.04)(75,-2.9)(230,-5.02)(229,-5.15)(277,-5.1)(232,-3.38)(232,-3.63)(357,-6.4)(155,-.4)(155,-.7)(155,-1)(155,1)(348,2.9)(348,2.7)(348,2.4)(348,.7)(348,.35)(431,-3.08)(431,-3.42)(431,-3.73)(431,-4.03)(466,-2.68)(416,-3.38)
(505,2.8)(505,2.5)(505,2.3)(505,2.1)(505,1.9)(505,1.7)(512,2.4)(512,2)(625,1)(625,.8)(625,.6)(625,.4)(625,.2)(625,0)(665,2.4)(665,2.1)(665,1.8)(665,1.5)(665,1.2)(665,.9)(665,.6)(665,.3)(660,-.3)
(700,5.45)(375,-.3)(375,-.6)(375,-.9)(375,-1.2)(375,-1.5)(440,1.2)(440,.9)(465,.3)(510,-1.5)(510,-1.8)(510,-2)(520,-2.2)(432,-2.4)(432,-2.7)
(440,2)(440,1.6)(432,1.3)(432,.7)(458,1.2)(458,.8)(470,.5)(348,-.1)(348,-.5)(348,-.9)(352,-1.4)(365,-.2)(365,-.7)(365,-1.2)(385,-.5)(385,-1.1)(385,-1.7)(510,-1.1)(515,-1.4)(525,-1.9)};
\addplot[O={cI}] coordinates {(53,-3.64)(75,-2.47)(98,-1.99)(347,5.11)(347,4.77)(348,4.08)(517,5.6)(525,5.25)(518,5.1)(516,4.57)(519,4.4)(524,4.18)(546,4.32)(545,3.63)(700,7.08)(700,6.46)(669,4.45)(669,4.2)(442,2.85)(50,2.1)(240,2.2)(240,1.3)(240,1)(288,1.3)(359,-4)(50,-1.1)(50,-1.4)(50,-1.9)(155,.2)(155,-.2)(625,2)(625,1.8)(640,3)(655,2.9)(662,2.75)(375,0)(375,-.3)(375,-.7)(375,-1)(375,-1.4)(375,-1.7)(375,-1.9)(450,2.3)(450,2.1)(450,1.9)(450,1.7)(450,1.5)(450,1.3)(450,1.1)(458,2)(458,1.6)(440,1.9)(440,1.4)(470,2.2)(470,1.8)(470,1.2)(345,-.1)(355,-.6)(455,.7)(455,.3)(362,1.1)(365,.9)(348,-1)(352,-1.3)(288,-1)(240,-.4)(432,-.4)(440,-1)(470,-.4)
(50,-2.3)(50,-2.6)(380,-.2)(380,-.6)(380,-1)(380,-1.4)(370,-1.6)(445,-1.5)(445,-2)(460,-2)(432,-2)(440,2.6)(460,2.6)};
\addplot[O={cP}] coordinates {(50,1.75)(369,-5.02)(369,-5.32)(369,-5.63)(659,-6.65)(659,-6)(659,-5.67)(659,-5.36)(624,-5.35)(510,-2.9)(510,-3.2)(510,-3.5)(625,-3.35)(625,-3.7)(625,-4.1)(625,-4.4)(665,-4)(665,-4.4)(665,-4.7)(665,-4.9)(650,-3.9)(510,1.3)(369,-4.7)(369,-4.4)(369,-4.1)(360,-2.4)(360,-2.9)(348,-3.3)(455,-1.9)(440,-2.3)(75,.2)(98,.4)(240,-1.9)(288,-1.3)(50,-.9)(50,-1.6)};
\addplot[O={cM}] coordinates {(50,.8)(50,.65)(50,.5)(50,.35)(50,.2)(50,.05)(50,-.1)(50,-.25)(50,-.4)(50,-.55)(50,-.7)(42,.4)(42,0)(42,-.3)(60,-.3)(60,0)(60,.3)(77,.3)(98,.3)(77,.05)(98,0)(70,-.5)(155,-1.1)(155,-1.25)(155,-1.4)(155,-1.55)(155,-1.7)(240,-1.9)(288,-1.9)(375,-2.7)(375,-2.85)(375,-3)(375,-3.15)(375,-3.3)(365,-2.9)(358,-2.2)
(440,.1)(440,-.1)(440,-.3)(440,-.5)(440,-.7)(440,-.9)(440,-1.1)(440,-1.3)(440,-1.5)(440,-1.7)(440,-1.9)(440,-2.1)(455,-.1)(455,-.4)(455,-.7)(455,-1)(455,-1.3)(428,0)(428,-.3)(428,-.6)(470,.1)(470,-.2)(508,.65)(508,.45)(508,.3)(516,.5)(516,.25)(432,-.9)(432,-1.2)(432,-1.5)(448,-.2)(448,-.6)(448,-.9)(448,-1.2)(448,-1.6)(455,-1.6)(463,-.5)(463,-.9)(463,-1.3)(420,-.2)(440,-2.3)};
\end{axis}
% lower panel
\begin{axis}[frame,height=154pt,at={(160pt,155pt)},anchor=south west,
 ymin=-3,ymax=151,
 ytick=\empty,
 xtick={0,500,1000,1500},
 xtick pos=bottom,
 xticklabel style={yshift=-26pt},
 legend image code/.code={\draw[#1] plot coordinates {(0pt,0pt)(59pt,0pt)};},
 legend cell align=left,
 legend style={draw=none,fill=none,at={(0.6981,0.7820)},anchor=north west,inner sep=0pt,row sep=8.2pt,
  font=\fontsize{31.5}{31.5}\selectfont,
  nodes={inner sep=0pt,text height=23pt,text depth=7pt},
  /tikz/every odd column/.append style={column sep=29pt}},
 xlabel={Retention Time {\serifx\fontsize{36}{36}\selectfont(seconds)}},
 xlabel style={at={(axis description cs:0.58,-0.91)},anchor=center,font=\fontsize{32}{36}\selectfont},
 ylabel={Peak Densit},
 ylabel style={at={(axis description cs:-0.141,0.44)},anchor=center,font=\fontsize{32}{36}\selectfont}]
\addplot[gray!50,no marks,line width=2pt,forget plot] coordinates {(-58.5,.3)(1515,.3)};
\addplot[black,smooth,no marks,line width=2pt] coordinates {(0,.7)(22.3,2)(30.7,8.3)(36.3,33.3)(41.8,73.3)(48.5,87.7)(54.7,73.3)(61.3,43.3)(66.9,21.7)(75.3,14.3)(83.6,16.7)(92,26.7)(97.6,30)(103.1,26.7)(111.5,13.3)(119.9,8.3)(133.8,7.7)(145,11.7)(155,22.7)(164.5,11.7)(175.6,3.3)(192.3,2)(231.3,3.3)(253.6,3.3)(278.7,6.3)(298.2,4)(315,3.3)(326.1,4)(342.8,18.3)(359.6,26.7)(373.5,44)(381.8,23.3)(393,6.7)(404.1,5)(415.3,13.3)(426.4,60)(435.4,88.3)(443.2,73.3)(454.3,43.3)(465.5,26.7)(479.4,18.3)(487.7,19.3)(498.9,13.3)(510,21.7)(518.4,24.3)(526.8,20)(540.7,8.3)(560.2,2.7)(571.4,3.7)(588.1,2)(610.4,1.7)(643.8,2.7)(664.5,9)(682.9,2)(777.6,1.3)(1000,1.5)(1100,1.5)(1450,1)};
\addlegendentry{All}
\addplot[cR,smooth,no marks,line width=2pt] coordinates {(0,.7)(25.1,2)(33.5,20)(39,83.3)(44.6,136.7)(51.3,145)(57.4,126.7)(63,60)(68.6,20)(75.3,9.3)(103.1,4)(119.9,1.3)(136.6,2)(145,13.3)(154.4,26.7)(161.7,20)(175.6,3.3)(220.2,2.7)(235.8,7.3)(248.1,2.7)(281.5,4)(303.8,2)(326.1,2.7)(348.4,16.7)(362.3,28.3)(373.5,51.3)(384.6,26.7)(395.8,5)(412.5,2.3)(423.7,43.3)(429.2,83.3)(436.5,104.3)(443.2,86.7)(454.3,46.7)(465.5,31.7)(476.6,18.3)(487.7,15)(501.7,6.7)(510,13.3)(518.4,22.3)(526.8,16.7)(540.7,4)(560.2,2)(610.4,1.7)(629.9,10)(646.6,6)(663.3,29)(674.5,13.3)(688.4,3.3)(710.7,2)(777.6,1)(1000,1.8)(1100,1.5)(1450,1)};
\addlegendentry{Correction}
\end{axis}
\draw[line width=2pt,color=fr] (790,188) rectangle (1094,303);
\end{tikzpicture}
\end{document}
